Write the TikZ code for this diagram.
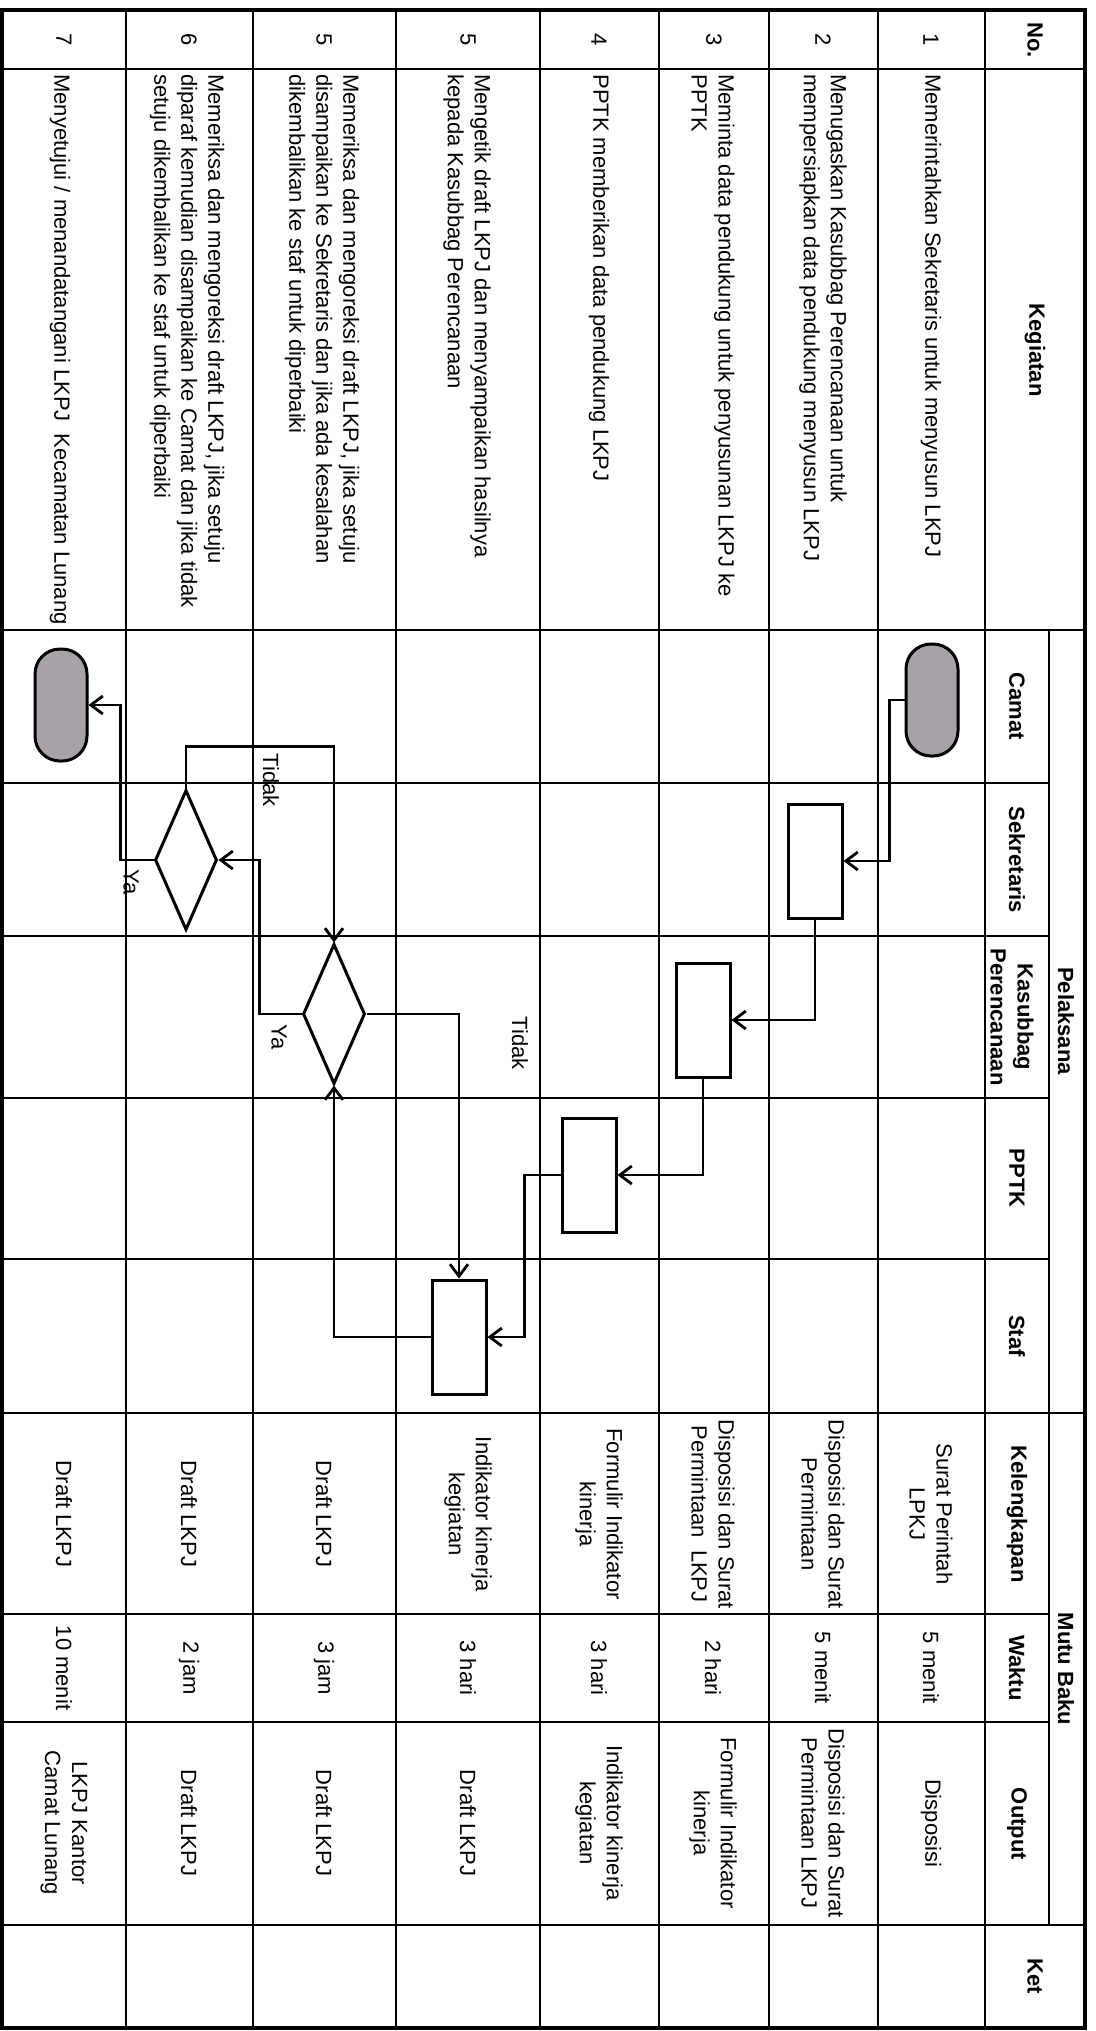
\documentclass[tikz,border=0pt]{standalone}
\usepackage{fontspec}
\setmainfont{Liberation Sans}
\usepackage{xcolor}
\usetikzlibrary{arrows.meta, shapes.geometric, calc}
\definecolor{termgray}{RGB}{168,162,168}

\begin{document}
\begin{tikzpicture}[
  x=0.5pt, y=-0.5pt,
  every node/.style={font=\fontsize{11}{13.5}\selectfont},
  cell/.style={rotate=-90, align=center, inner sep=1pt},
  kegtext/.style={cell, align=left, anchor=west},
  head/.style={cell, font=\fontsize{11}{13.5}\selectfont\bfseries},
  grid/.style={line width=1.2pt},
  procbox/.style={draw, line width=1.5pt, minimum width=27pt, minimum height=57pt, inner sep=0pt},
  terminal/.style={draw, line width=1.5pt, fill=termgray, rounded corners=12.5pt,
                   minimum width=26pt, minimum height=56pt, inner sep=0pt},
  decision/.style={draw, diamond, line width=1.5pt, minimum width=31pt, minimum height=70pt, inner sep=0pt},
  arrow/.style={-{Straight Barb[length=6pt,width=9pt]}, line width=1.4pt},
  lbl/.style={rotate=-90, inner sep=0pt}
]
\useasboundingbox (0,0) rectangle (1096,2031);

%% Table
\draw[line width=1.6pt] (2,10) rectangle (1085,2028);
\foreach \x in {126,253,396,540,659,769,878,985}
  \draw[grid] (\x,10) -- (\x,2028);
\foreach \y in {69,630,1413,1925}
  \draw[grid] (2,\y) -- (1085,\y);
\foreach \y in {783,936,1098,1259,1614,1722}
  \draw[grid] (2,\y) -- (1049,\y);
\draw[grid] (1049,630) -- (1049,1925);

%% Header
\node[head] (hno)   at (1035,40)   {No.};
\node[head] (hkeg)  at (1035,350)  {Kegiatan};
\node[head] (hpel)  at (1066,1021) {Pelaksana};
\node[head] (hmutu) at (1066,1669) {Mutu Baku};
\node[head] (hcam)  at (1017,706)  {Camat};
\node[head] (hsek)  at (1017,860)  {Sekretaris};
\node[head] (hkas)  at (1012,1017) {Kasubbag\\Perencanaan};
\node[head] (hpptk) at (1017,1178) {PPTK};
\node[head] (hstaf) at (1017,1336) {Staf};
\node[head] (hkel)  at (1017,1514) {Kelengkapan};
\node[head] (hwkt)  at (1017,1668) {Waktu};
\node[head] (hout)  at (1017,1824) {Output};
\node[head] (hket)  at (1035,1976) {Ket};

%% Nomor
\node[cell] (no1)  at (931,40) {1};
\node[cell] (no2)  at (823,40) {2};
\node[cell] (no3)  at (714,40) {3};
\node[cell] (no4)  at (599,40) {4};
\node[cell] (no5a) at (468,40) {5};
\node[cell] (no5b) at (324,40) {5};
\node[cell] (no6)  at (189,40) {6};
\node[cell] (no7)  at (64,40)  {7};

%% Kegiatan
\node[kegtext] (keg1)  at (931,72) {Memerintahkan Sekretaris untuk menyusun LKPJ};
\node[kegtext] (keg2)  at (823,72) {Menugaskan Kasubbag Perencanaan untuk\\mempersiapkan data pendukung menyusun LKPJ};
\node[kegtext] (keg3)  at (713,72) {Meminta data pendukung untuk penyusunan LKPJ ke\\PPTK};
\node[kegtext] (keg4)  at (599,72) {PPTK memberikan data pendukung LKPJ};
\node[kegtext] (keg5a) at (467,72) {Mengetik draft LKPJ dan menyampaikan hasilnya\\kepada Kasubbag Perencanaan};
\node[kegtext] (keg5b) at (322,72) {Memeriksa dan mengoreksi draft LKPJ, jika setuju\\disampaikan ke Sekretaris dan jika ada kesalahan\\dikembalikan ke staf untuk diperbaiki};
\node[kegtext] (keg6)  at (187,72) {Memeriksa dan mengoreksi draft LKPJ, jika setuju\\diparaf kemudian disampaikan ke Camat dan jika tidak\\setuju dikembalikan ke staf untuk diperbaiki};
\node[kegtext] (keg7)  at (60,72)  {Menyetujui / menandatangani LKPJ\ \ Kecamatan Lunang};

%% Kelengkapan
\node[cell] (kel1)  at (931,1514) {Surat Perintah\\LPKJ};
\node[cell] (kel2)  at (823,1514) {Disposisi dan Surat\\Permintaan};
\node[cell] (kel3)  at (713,1514) {Disposisi dan Surat\\Permintaan\ \ LKPJ};
\node[cell] (kel4)  at (599,1514) {Formulir Indikator\\kinerja};
\node[cell] (kel5a) at (468,1514) {Indikator kinerja\\kegiatan};
\node[cell] (kel5b) at (324,1514) {Draft LKPJ};
\node[cell] (kel6)  at (189,1514) {Draft LKPJ};
\node[cell] (kel7)  at (64,1514)  {Draft LKPJ};

%% Waktu
\node[cell] (wkt1)  at (931,1668) {5 menit};
\node[cell] (wkt2)  at (823,1668) {5 menit};
\node[cell] (wkt3)  at (713,1668) {2 hari};
\node[cell] (wkt4)  at (599,1668) {3 hari};
\node[cell] (wkt5a) at (468,1668) {3 hari};
\node[cell] (wkt5b) at (324,1668) {3 jam};
\node[cell] (wkt6)  at (189,1668) {2 jam};
\node[cell] (wkt7)  at (64,1668)  {10 menit};

%% Output
\node[cell] (out1)  at (931,1823) {Disposisi};
\node[cell] (out2)  at (823,1823) {Disposisi dan Surat\\Permintaan LKPJ};
\node[cell] (out3)  at (713,1823) {Formulir Indikator\\kinerja};
\node[cell] (out4)  at (599,1823) {Indikator kinerja\\kegiatan};
\node[cell] (out5a) at (468,1823) {Draft LKPJ};
\node[cell] (out5b) at (324,1823) {Draft LKPJ};
\node[cell] (out6)  at (189,1823) {Draft LKPJ};
\node[cell] (out7)  at (64,1823)  {LKPJ Kantor\\Camat Lunang};

%% Flow nodes
\node[terminal] (start) at (932,700)    {};
\node[procbox]  (sek)   at (815,861)    {};
\node[procbox]  (kas)   at (703,1020)   {};
\node[procbox]  (pptk)  at (589,1175)   {};
\node[procbox]  (staf)  at (459,1337)   {};
\node[decision] (dkas)  at (334,1014)   {};
\node[decision] (dsek)  at (186,860)    {};
\node[terminal] (stop)  at (61,705)     {};

%% Arrows
\draw[arrow] (start.west) -- ++(-15,0) |- (sek.east);
\draw[arrow] (sek.south) |- (kas.east);
\draw[arrow] (kas.south) |- (pptk.east);
\draw[arrow] (pptk.west) -- ++(-36,0) |- (staf.east);
\draw[arrow] (staf.west) -| (dkas.south);
\draw[arrow] (dkas.east) -| (staf.north);
\draw[arrow] (dkas.west) -- ++(-42,0) |- (dsek.east);
\draw[arrow] (dsek.north) -- ++(0,-42) -| (dkas.north);
\draw[arrow] (dsek.west) -- ++(-33,0) |- (stop.east);

%% Labels
\node[lbl] (tidak1) at (520,1043) {Tidak};
\node[lbl] (ya1)    at (279,1037) {Ya};
\node[lbl] (tidak2) at (271,780)  {Tidak};
\node[lbl] (ya2)    at (131,882)  {Ya};

\end{tikzpicture}
\end{document}
